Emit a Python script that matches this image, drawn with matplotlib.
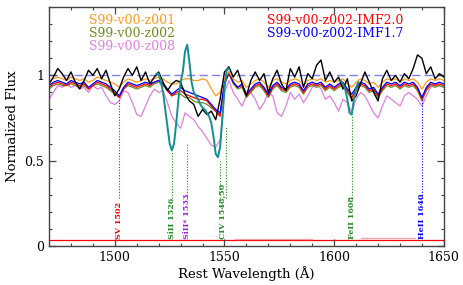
import numpy as np
import matplotlib
matplotlib.use("Agg")
import matplotlib.pyplot as plt

plt.rcParams['font.family'] = ['DejaVu Serif']

# model grid, 2 A steps
wave = np.arange(1470, 1651, 2)

z001 = [0.96, 0.98, 0.99, 0.98, 0.97, 0.99, 0.98, 0.97, 0.98, 0.96,
        0.97, 0.99, 0.98, 0.97, 0.96, 0.95, 0.93, 0.96, 0.98, 0.97,
        0.96, 0.97, 0.98, 0.97, 0.98, 0.99, 0.98, 0.96, 0.95, 0.95,
        0.97, 0.98, 0.98, 0.97, 0.97, 0.98, 0.97, 0.92, 0.88, 0.90,
        0.98, 1.02, 0.98, 0.96, 0.97, 0.93, 0.95, 0.97, 0.98, 0.96,
        0.93, 0.97, 0.98, 0.96, 0.95, 0.97, 0.98, 0.97, 0.94, 0.97,
        0.98, 0.97, 0.98, 0.96, 0.97, 0.96, 0.97, 0.98, 0.95, 0.93,
        0.96, 0.98, 0.97, 0.95, 0.96, 0.93, 0.96, 0.98, 0.97, 0.98,
        0.96, 0.98, 0.97, 0.98, 0.96, 0.92, 0.96, 0.98, 0.97, 0.98,
        0.97]

z002 = [0.92, 0.94, 0.95, 0.94, 0.94, 0.95, 0.94, 0.93, 0.94, 0.92,
        0.94, 0.95, 0.94, 0.93, 0.91, 0.89, 0.87, 0.92, 0.94, 0.93,
        0.92, 0.93, 0.94, 0.93, 0.95, 0.96, 0.94, 0.91, 0.88, 0.89,
        0.89, 0.87, 0.87, 0.85, 0.84, 0.84, 0.83, 0.81, 0.79, 0.77,
        0.95, 1.01, 0.95, 0.92, 0.93, 0.87, 0.90, 0.93, 0.94, 0.91,
        0.87, 0.92, 0.94, 0.91, 0.90, 0.93, 0.94, 0.93, 0.89, 0.93,
        0.94, 0.93, 0.94, 0.91, 0.93, 0.91, 0.93, 0.94, 0.90, 0.86,
        0.91, 0.94, 0.93, 0.90, 0.91, 0.87, 0.91, 0.94, 0.93, 0.94,
        0.92, 0.94, 0.93, 0.94, 0.91, 0.85, 0.91, 0.94, 0.93, 0.94,
        0.93]

z008 = [0.86, 0.90, 0.94, 0.93, 0.95, 0.93, 0.94, 0.92, 0.93, 0.90,
        0.94, 0.92, 0.93, 0.88, 0.84, 0.83, 0.85, 0.91, 0.90, 0.84,
        0.77, 0.76, 0.82, 0.88, 0.92, 0.90, 0.91, 0.84, 0.76, 0.72,
        0.69, 0.78, 0.76, 0.74, 0.70, 0.67, 0.63, 0.59, 0.58, 0.62,
        0.90, 0.97, 0.90, 0.86, 0.82, 0.88, 0.90, 0.86, 0.80, 0.84,
        0.90, 0.88, 0.78, 0.76, 0.82, 0.90, 0.86, 0.89, 0.84, 0.88,
        0.93, 0.95, 0.92, 0.86, 0.88, 0.84, 0.79, 0.86, 0.84, 0.78,
        0.86, 0.90, 0.88, 0.83, 0.78, 0.75, 0.82, 0.88, 0.86, 0.84,
        0.82, 0.88, 0.90, 0.88, 0.86, 0.82, 0.88, 0.93, 0.95, 0.94,
        0.93]

imf20 = [0.93, 0.95, 0.96, 0.95, 0.94, 0.96, 0.95, 0.94, 0.95, 0.92,
         0.94, 0.96, 0.95, 0.94, 0.92, 0.90, 0.87, 0.92, 0.95, 0.94,
         0.93, 0.94, 0.95, 0.94, 0.96, 0.97, 0.95, 0.91, 0.88, 0.90,
         0.91, 0.89, 0.88, 0.87, 0.86, 0.86, 0.85, 0.82, 0.79, 0.76,
         0.95, 1.01, 0.96, 0.93, 0.94, 0.88, 0.91, 0.94, 0.95, 0.92,
         0.88, 0.93, 0.95, 0.92, 0.91, 0.94, 0.95, 0.94, 0.90, 0.94,
         0.95, 0.94, 0.95, 0.92, 0.94, 0.92, 0.94, 0.95, 0.91, 0.87,
         0.92, 0.95, 0.94, 0.91, 0.92, 0.88, 0.92, 0.95, 0.94, 0.95,
         0.93, 0.95, 0.94, 0.95, 0.92, 0.86, 0.92, 0.95, 0.94, 0.95,
         0.94]

imf17 = [0.94, 0.96, 0.97, 0.96, 0.95, 0.97, 0.96, 0.95, 0.96, 0.93,
         0.95, 0.97, 0.96, 0.95, 0.93, 0.91, 0.88, 0.93, 0.96, 0.95,
         0.94, 0.95, 0.96, 0.95, 0.96, 0.97, 0.95, 0.92, 0.89, 0.91,
         0.93, 0.91, 0.90, 0.89, 0.88, 0.87, 0.86, 0.83, 0.80, 0.78,
         0.96, 1.02, 0.96, 0.93, 0.95, 0.89, 0.92, 0.95, 0.96, 0.93,
         0.89, 0.94, 0.96, 0.93, 0.92, 0.95, 0.96, 0.95, 0.91, 0.95,
         0.96, 0.95, 0.96, 0.93, 0.95, 0.93, 0.95, 0.96, 0.92, 0.89,
         0.93, 0.96, 0.95, 0.92, 0.93, 0.89, 0.93, 0.96, 0.95, 0.96,
         0.94, 0.96, 0.95, 0.96, 0.93, 0.87, 0.93, 0.96, 0.95, 0.96,
         0.95]

observed = [0.95, 0.99, 1.04, 1.01, 0.97, 1.02, 0.96, 0.92, 0.97, 1.03,
            1.00, 1.04, 0.98, 1.03, 0.95, 0.88, 0.92, 0.99, 1.04, 1.00,
            1.05, 0.97, 1.02, 0.95, 0.99, 1.02, 0.96, 0.91, 0.95, 0.97,
            0.96, 0.89, 0.85, 0.83, 0.76, 0.80, 0.77, 0.79, 0.74, 0.86,
            1.02, 1.05, 0.99, 1.03, 0.95, 0.88, 0.97, 1.02, 0.97, 1.01,
            0.90, 0.98, 1.03, 0.95, 0.91, 1.04, 0.99, 1.05, 0.93, 1.01,
            0.98, 1.06, 1.09, 0.97, 1.02, 0.96, 0.99, 0.92, 0.98, 0.85,
            0.88, 0.95, 1.02, 0.96, 0.90, 0.85, 0.98, 1.03, 0.97, 1.00,
            0.96, 1.01, 0.98, 1.04, 1.12, 1.10, 1.01, 1.05, 0.98, 1.01,
            0.99]

# interstellar line profile (teal), two pieces
ism_wave_a = np.arange(1519, 1553)
ism_flux_a = [1.01, 1.01, 0.96, 0.90, 0.80, 0.70, 0.60, 0.56, 0.60, 0.72,
              0.86, 0.96, 1.02, 1.14, 1.18, 1.08, 0.96, 0.90, 0.88, 0.86,
              0.83, 0.81, 0.80, 0.78, 0.76, 0.72, 0.64, 0.54, 0.52, 0.58,
              0.74, 0.92, 1.03, 1.04]
ism_wave_b = np.arange(1603, 1612)
ism_flux_b = [0.97, 0.95, 0.92, 0.86, 0.78, 0.77, 0.86, 0.93, 0.96]

# identified lines
line_names = ['SV 1502', 'SiII 1526', 'SiII* 1533', 'CIV 1548,50', 'FeII 1608', 'HeII 1640']
line_pos = [1502, 1526, 1533, 1549, 1608, 1640]
line_cols = ['red', '#228b22', '#a020f0', '#228b22', '#228b22', 'blue']
mark_pos = [1502, 1526, 1533, 1548, 1550.5, 1608, 1640]
mark_top = [0.86, 0.55, 0.60, 0.50, 0.70, 0.76, 0.86]
mark_cols = ['red', '#228b22', '#a020f0', '#228b22', '#228b22', '#228b22', 'blue']

fig = plt.figure(figsize=(4.64, 2.85), dpi=100)
ax = fig.add_axes([0.1056, 0.137, 0.851, 0.838])

ax.axhline(1.0, color='#8080f0', ls=(0, (6, 3)), lw=1.0, zorder=1)
ax.axhline(0.035, color='red', lw=0.9, zorder=1)
ax.plot([1555, 1590], [0.043, 0.043], color='#f4a0a0', lw=0.9)
ax.plot([1612, 1637], [0.045, 0.045], color='#f4a0a0', lw=0.9)

ax.plot(wave, z008, color='#e080e0', lw=0.9)
ax.plot(wave, z002, color='#6b8e23', lw=0.9)
ax.plot(wave, imf20, color='red', lw=0.9)
ax.plot(wave, imf17, color='blue', lw=0.9)
ax.plot(wave, z001, color='#ff9a1a', lw=0.9)
ax.plot(wave, observed, color='black', lw=1.0)
ax.plot(ism_wave_a, ism_flux_a, color='#11908f', lw=1.4)
ax.plot(ism_wave_b, ism_flux_b, color='#11908f', lw=1.4)

for x, top, c in zip(mark_pos, mark_top, mark_cols):
    ax.vlines(x, 0.28, top, colors=c, linestyles=(0, (1, 1.5)), lw=0.8)
for name, x, c in zip(line_names, line_pos, line_cols):
    ax.text(x, 0.04, name, rotation=90, ha='center', va='bottom',
            color=c, fontsize=5.8, fontweight='bold')

ax.text(0.101, 0.946, 'S99-v00-z001', color='#ff9a1a', fontsize=9,
        transform=ax.transAxes, va='center')
ax.text(0.101, 0.891, 'S99-v00-z002', color='#6b8e23', fontsize=9,
        transform=ax.transAxes, va='center')
ax.text(0.101, 0.837, 'S99-v00-z008', color='#e080e0', fontsize=9,
        transform=ax.transAxes, va='center')
ax.text(0.552, 0.946, 'S99-v00-z002-IMF2.0', color='red', fontsize=9,
        transform=ax.transAxes, va='center')
ax.text(0.552, 0.891, 'S99-v00-z002-IMF1.7', color='blue', fontsize=9,
        transform=ax.transAxes, va='center')

ax.set_xlim(1470, 1650)
ax.set_ylim(0, 1.4)
ax.set_xticks([1500, 1550, 1600, 1650])
ax.set_xticks(np.arange(1470, 1651, 10), minor=True)
ax.set_yticks([0, 0.5, 1])
ax.set_yticklabels(['0', '0.5', '1'])
ax.set_yticks(np.arange(0, 1.41, 0.1), minor=True)
ax.tick_params(which='both', direction='in', top=True, right=True,
               labelsize=9, color='#444444')
ax.tick_params(which='major', length=5, width=0.9)
ax.tick_params(which='minor', length=2.5, width=0.8)
for s in ax.spines.values():
    s.set_color('#444444')
    s.set_linewidth(1.0)

ax.set_xlabel('Rest Wavelength (Å)', fontsize=9.5, labelpad=2)
ax.set_ylabel('Normalized Flux', fontsize=9.5, labelpad=4)

fig.savefig('out.png', dpi=100)
